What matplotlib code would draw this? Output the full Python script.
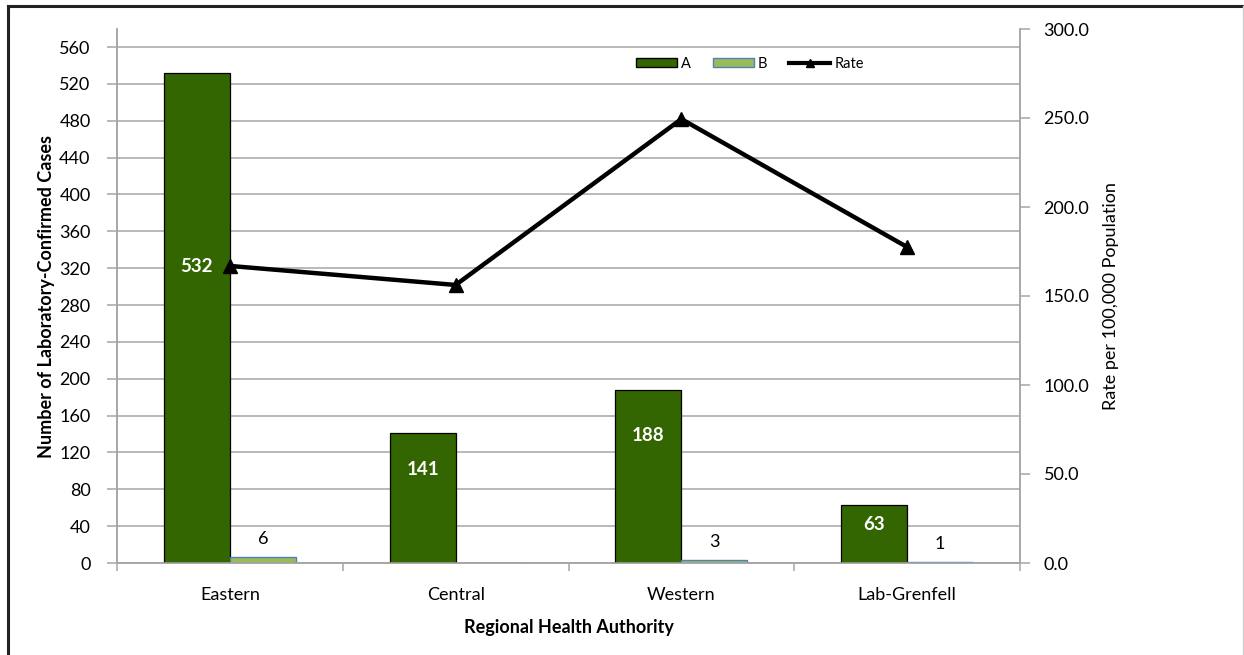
import matplotlib
matplotlib.use("Agg")
import matplotlib.pyplot as plt
from matplotlib.lines import Line2D
from matplotlib.patches import Patch
import numpy as np

plt.rcParams['font.family'] = ['Lato', 'DejaVu Sans']

regions = ["Eastern", "Central", "Western", "Lab-Grenfell"]
cases_a = [532, 141, 188, 63]
cases_b = [6, 0, 3, 1]
rate = [166.9, 156.2, 249.4, 177.5]
left_ticks = list(range(0, 561, 40))
right_ticks = [0, 50, 100, 150, 200, 250, 300]

# heights at which the white value labels sit inside the A bars
a_label_y = [322, 101, 138, 42]

GREEN_DARK = "#336600"
GREEN_LIGHT = "#9BBB59"
BLUE_EDGE = "#4F81BD"
GRID = "#A6A6A6"

fig = plt.figure(figsize=(12.44, 6.55), dpi=100)
ax = fig.add_axes([117 / 1244, 1 - 563 / 655, (1020 - 117) / 1244, (563 - 29) / 655])
ax2 = ax.twinx()

x = np.arange(len(regions))
w = 0.292

ax.bar(x - w / 2, cases_a, w, color=GREEN_DARK, edgecolor="black", linewidth=0.9, zorder=3)
ax.bar(x + w / 2, cases_b, w, color=GREEN_LIGHT, edgecolor=BLUE_EDGE, linewidth=1.0, zorder=3)

for xi, v, ly in zip(x, cases_a, a_label_y):
    ax.text(xi - w / 2, ly, str(v), ha="center", va="center", color="white",
            fontsize=13.5, fontweight="bold", zorder=5)
for xi, v in zip(x, cases_b):
    if v > 0:
        ax.text(xi + w / 2, v + 20, str(v), ha="center", va="center", color="black",
                fontsize=13, zorder=5)

ax.set_xlim(-0.5, len(regions) - 0.5)
ax.set_ylim(0, 579.6)
ax.set_yticks(left_ticks)
ax.set_yticklabels([str(t) for t in left_ticks], fontsize=13)
ax.yaxis.grid(True, color=GRID, linewidth=1.1, zorder=0)
ax.set_axisbelow(True)

ax.set_xticks(x)
ax.set_xticklabels(regions, fontsize=13)
ax.set_xticks(np.arange(-0.5, len(regions), 1.0), minor=True)
ax.tick_params(axis="x", which="major", length=0, pad=17)
ax.tick_params(axis="x", which="minor", length=6, color=GRID, width=1.1)
ax.tick_params(axis="y", length=7, color=GRID, width=1.1, pad=12)

for s in ["top"]:
    ax.spines[s].set_visible(False)
    ax2.spines[s].set_visible(False)
for s in ["left", "bottom", "right"]:
    ax.spines[s].set_color(GRID)
    ax.spines[s].set_linewidth(1.1)
    ax2.spines[s].set_color(GRID)
    ax2.spines[s].set_linewidth(1.1)

ax.set_ylabel("Number of Laboratory-Confirmed Cases", fontsize=13, fontweight="bold", labelpad=3)
ax.set_xlabel("Regional Health Authority", fontsize=13, fontweight="bold", labelpad=12)

ax2.plot(x, rate, color="black", linewidth=3.2, marker="^", markersize=10, zorder=6)
ax2.set_ylim(0, 300)
ax2.set_yticks(right_ticks)
ax2.set_yticklabels([f"{t:.1f}" for t in right_ticks], fontsize=13)
ax2.tick_params(axis="y", length=7, color=GRID, width=1.1, pad=10)
ax2.set_ylabel("Rate per 100,000 Population", fontsize=13, labelpad=10)

handles = [
    Patch(facecolor=GREEN_DARK, edgecolor="black", linewidth=1.0),
    Patch(facecolor=GREEN_LIGHT, edgecolor=BLUE_EDGE, linewidth=1.0),
    Line2D([0], [0], color="black", linewidth=3, marker="^", markersize=6),
]
fig.legend(handles, ["A", "B", "Rate"], loc="center", bbox_to_anchor=(750 / 1244, 1 - 64 / 655),
           ncol=3, frameon=False, fontsize=10.5, handlelength=2.8, handleheight=0.55,
           handletextpad=0.3, columnspacing=1.5)

# outer frame
fig.add_artist(Line2D([8 / 1244, 1], [1 - 5.5 / 655, 1 - 5.5 / 655], color="#222222", linewidth=2.2))
fig.add_artist(Line2D([8 / 1244, 8 / 1244], [0, 1 - 5.5 / 655], color="#222222", linewidth=2.2))
fig.add_artist(Line2D([1242.5 / 1244, 1242.5 / 1244], [0, 1 - 5.5 / 655], color="#D0D0D0", linewidth=1))

fig.savefig("out.png", dpi=100)
